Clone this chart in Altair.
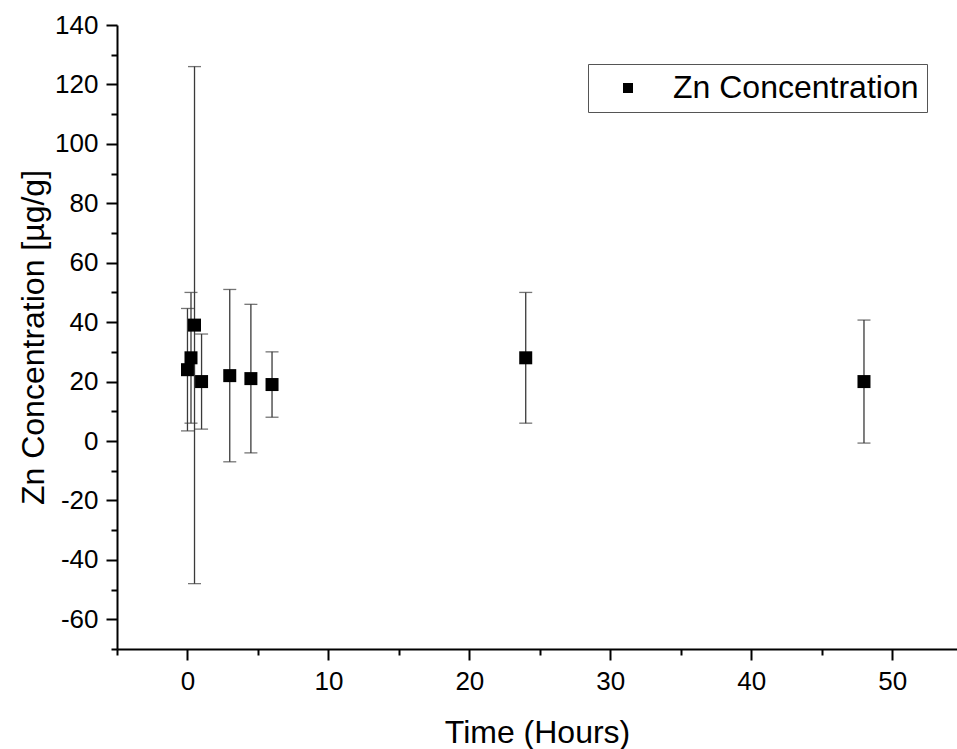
import altair as alt
import pandas as pd

# Data
times = [0, 0.25, 0.5, 1, 3, 4.5, 6, 24, 48]
conc = [24, 28, 39, 20, 22, 21, 19, 28, 20]
err = [20.6, 22, 87, 16, 29, 25, 11, 22, 20.7]
series_name = "Zn Concentration"

x_major = [0, 10, 20, 30, 40, 50]
x_minor = [-5, 5, 15, 25, 35, 45]
y_major = [-60, -40, -20, 0, 20, 40, 60, 80, 100, 120, 140]
y_minor = [-70, -50, -30, -10, 10, 30, 50, 70, 90, 110, 130]

df = pd.DataFrame({"t": times, "c": conc, "e": err})
df["lo"] = df["c"] - df["e"]
df["hi"] = df["c"] + df["e"]
df["series"] = series_name

FONT = "Liberation Sans"
xs = alt.Scale(domain=[-5, 54.6], nice=False, zero=False)
ys = alt.Scale(domain=[-70, 140], nice=False, zero=False)

x_axis = alt.Axis(values=x_major, tickSize=11, tickWidth=2, domainWidth=2,
                  domainColor="black", tickColor="black", labelFontSize=26,
                  labelFont=FONT, labelColor="black", labelPadding=8,
                  labelExpr="'' + datum.value",
                  title="Time (Hours)", titleFont=FONT, titleFontSize=32,
                  titleFontWeight="normal", titleColor="black",
                  titleY=93, titleBaseline="alphabetic", grid=False,
                  labelFlush=False, labelOverlap=False, orient="bottom")
y_axis = alt.Axis(values=y_major, tickSize=11, tickWidth=2, domainWidth=2,
                  domainColor="black", tickColor="black", labelFontSize=26,
                  labelFont=FONT, labelColor="black", labelPadding=8,
                  labelExpr="'' + datum.value",
                  title="Zn Concentration [µg/g]", titleFont=FONT, titleFontSize=32,
                  titleFontWeight="normal", titleColor="black",
                  titleX=-74, titleBaseline="alphabetic", grid=False,
                  labelFlush=False, labelOverlap=False, orient="left")

base = alt.Chart(df)

bars = base.mark_rule(color="#3a3a3a", strokeWidth=1.3).encode(
    x=alt.X("t:Q", scale=xs, axis=x_axis),
    y=alt.Y("lo:Q", scale=ys, axis=y_axis),
    y2="hi:Q",
)
cap_lo = base.mark_tick(orient="horizontal", size=13, thickness=1.3, color="#3a3a3a").encode(
    x=alt.X("t:Q", scale=xs, axis=None), y=alt.Y("lo:Q", scale=ys, axis=None)
)
cap_hi = base.mark_tick(orient="horizontal", size=13, thickness=1.3, color="#3a3a3a").encode(
    x=alt.X("t:Q", scale=xs, axis=None), y=alt.Y("hi:Q", scale=ys, axis=None)
)
pts = base.mark_point(shape="square", filled=True, size=169, opacity=1).encode(
    x=alt.X("t:Q", scale=xs, axis=None),
    y=alt.Y("c:Q", scale=ys, axis=None),
    color=alt.Color("series:N", scale=alt.Scale(domain=[series_name], range=["black"]),
                    legend=alt.Legend(title=None, orient="none", legendX=471, legendY=39,
                                      padding=8, strokeColor="#555", cornerRadius=0,
                                      labelFontSize=32, labelFont=FONT, labelColor="black",
                                      labelLimit=500,
                                      symbolType="square", symbolSize=100,
                                      symbolOffset=16, labelOffset=29,
                                      symbolStrokeWidth=0)),
)

minor = alt.Chart(pd.DataFrame({"t": [0.0], "c": [0.0]})).mark_point(opacity=0).encode(
    x=alt.X("t:Q", scale=xs, axis=alt.Axis(values=x_minor, tickSize=6, tickWidth=2,
                                             tickColor="black", labels=False, domain=False,
                                             title=None, grid=False, orient="bottom")),
    y=alt.Y("c:Q", scale=ys, axis=alt.Axis(values=y_minor, tickSize=6, tickWidth=2,
                                             tickColor="black", labels=False, domain=False,
                                             title=None, grid=False, orient="left")),
)

chart = alt.layer(bars, cap_lo, cap_hi, pts, minor).resolve_axis(
    x="independent", y="independent"
).properties(
    width=840, height=624,
    autosize=alt.AutoSizeParams(type="none"),
    padding={"left": 117, "top": 25, "right": 0, "bottom": 100},
    background="white",
).configure_view(stroke=None)

chart.save("out.html", embed_options={"renderer": "svg", "actions": False})
